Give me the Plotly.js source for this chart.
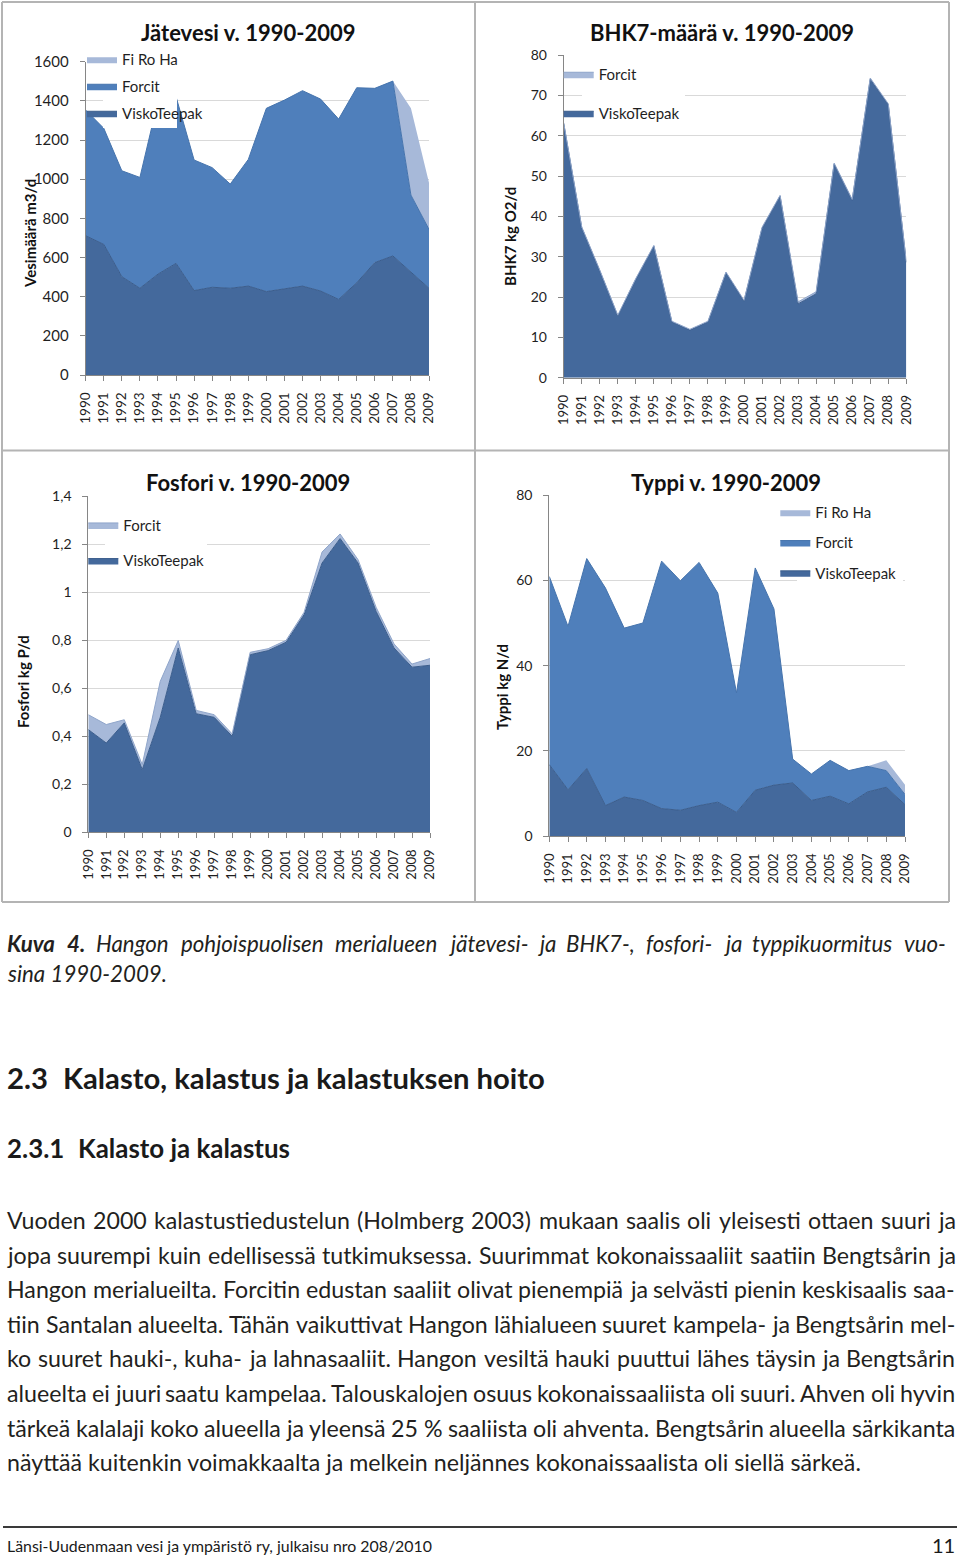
<!DOCTYPE html>
<html><head><meta charset="utf-8">
<script src="https://cdn.plot.ly/plotly-3.0.1.min.js"></script>
<style>html,body{margin:0;padding:0;background:#fff}#c{width:960px;height:1558px}</style>
</head><body><div id="c"></div>
<script>
// ---------- data ----------
const years=[1990,1991,1992,1993,1994,1995,1996,1997,1998,1999,2000,2001,2002,2003,2004,2005,2006,2007,2008,2009];
const jatevesiVisko=[711,667,502,443,515,570,431,448,443,454,426,439,454,429,386,471,574,608,528,443];
const jatevesiForcit=[642,593,541,566,885,851,667,611,532,647,936,965,998,980,921,996,890,893,391,301];
const jatevesiFiRoHa=[0,0,0,0,0,0,0,0,0,0,0,0,0,0,0,0,0,0,443,238];
const bhkVisko=[63.0,37.2,26.5,15.3,24.4,32.6,13.8,11.8,13.8,26.0,19.0,37.0,45.0,18.3,20.8,53.0,44.0,74.0,67.7,28.6];
const bhkForcit=[0.2,0.2,0.2,0.2,0.2,0.2,0.2,0.2,0.2,0.2,0.2,0.3,0.2,0.5,0.5,0.2,0.2,0.3,0.2,0.2];
const fosforiVisko=[0.428,0.372,0.456,0.261,0.479,0.768,0.494,0.479,0.400,0.740,0.757,0.792,0.907,1.122,1.224,1.122,0.921,0.768,0.688,0.696];
const fosforiForcit=[0.062,0.077,0.013,0.021,0.150,0.031,0.014,0.011,0.010,0.010,0.008,0.008,0.010,0.046,0.019,0.014,0.017,0.017,0.013,0.028];
const typpiVisko=[16.8,10.9,15.9,7.2,9.2,8.4,6.5,6.1,7.2,8.0,5.6,10.8,12.0,12.5,8.4,9.4,7.6,10.4,11.5,7.4];
const typpiForcit=[44.1,38.3,49.2,51.0,39.6,41.6,58.0,53.8,57.0,49.0,28.0,52.1,41.3,5.6,6.2,8.4,7.8,6.0,3.9,2.4];
const typpiFiRoHa=[0,0,0,0,0,0,0,0,0,0,0,0,0,0,0,0,0,0,2.4,2.3];
const fosforiTickVals=[0,0.2,0.4,0.6,0.8,1,1.2,1.4];
const fosforiTickText=['0','0,2','0,4','0,6','0,8','1','1,2','1,4'];
const chartTitles=['Jätevesi v. 1990-2009','BHK7-määrä v. 1990-2009','Fosfori v. 1990-2009','Typpi v. 1990-2009'];
const axisTitles=['Vesimäärä m3/d','BHK7 kg O2/d','Fosfori kg P/d','Typpi kg N/d'];
const captionLine1='Hangon pohjoispuolisen merialueen jätevesi- ja BHK7-, fosfori- ja typpikuormitus vuo-';
const captionLine2='sina 1990-2009.';
const heading1Num='2.3', heading1Text='Kalasto, kalastus ja kalastuksen hoito';
const heading2Num='2.3.1', heading2Text='Kalasto ja kalastus';
const bodyLines=[
'Vuoden 2000 kalastustiedustelun (Holmberg 2003) mukaan saalis oli yleisesti ottaen suuri ja',
'jopa suurempi kuin edellisessä tutkimuksessa. Suurimmat kokonaissaaliit saatiin Bengtsårin ja',
'Hangon merialueilta. Forcitin edustan saaliit olivat pienempiä ja selvästi pienin keskisaalis saa-',
'tiin Santalan alueelta. Tähän vaikuttivat Hangon lähialueen suuret kampela- ja Bengtsårin mel-',
'ko suuret hauki-, kuha- ja lahnasaaliit. Hangon vesiltä hauki puuttui lähes täysin ja Bengtsårin',
'alueelta ei juuri saatu kampelaa. Talouskalojen osuus kokonaissaaliista oli suuri. Ahven oli hyvin',
'tärkeä kalalaji koko alueella ja yleensä 25 % saaliista oli ahventa. Bengtsårin alueella särkikanta',
'näyttää kuitenkin voimakkaalta ja melkein neljännes kokonaissaalista oli siellä särkeä.'];
const footerText='Länsi-Uudenmaan vesi ja ympäristö ry, julkaisu nro 208/2010';
const pageNumber='11';

// ---------- helpers ----------
const W=960,H=1558, X=v=>v/W, Y=v=>1-v/H;
const FONT='Lato, "Open Sans", sans-serif';
const COL={dark:'#44699c',darkLine:'#3b5d8c',mid:'#4f7fbb',midLine:'#4674ad',light:'#a7b9d9',lightLine:'#8fa5ca'};
function area(name,y,ax,grp,fill,line,lw,legend,lg,rank){
  return {type:'scatter',mode:'lines',x:years,y:y,name:name,stackgroup:grp,fillcolor:fill,
    line:{color:line,width:lw},xaxis:'x'+ax,yaxis:'y'+ax,legend:legend,legendgroup:lg,legendrank:rank,hoverinfo:'skip'};
}
const traces=[
  area('ViskoTeepak',jatevesiVisko,'','g1',COL.dark,COL.darkLine,1,'legend','1a',3),
  area('Forcit',jatevesiForcit,'','g1',COL.mid,COL.midLine,1,'legend','1b',2),
  area('Fi Ro Ha',jatevesiFiRoHa,'','g1',COL.light,COL.light,0,'legend','1c',1),
  area('ViskoTeepak',bhkVisko,'2','g2',COL.dark,COL.darkLine,1,'legend2','2a',3),
  area('Forcit',bhkForcit,'2','g2',COL.light,COL.lightLine,1,'legend2','2b',2),
  area('ViskoTeepak',fosforiVisko,'3','g3',COL.dark,COL.darkLine,1,'legend3','3a',3),
  area('Forcit',fosforiForcit,'3','g3',COL.light,COL.lightLine,1,'legend3','3b',2),
  area('ViskoTeepak',typpiVisko,'4','g4',COL.dark,COL.darkLine,1,'legend4','4a',3),
  area('Forcit',typpiForcit,'4','g4',COL.mid,COL.midLine,1,'legend4','4b',2),
  area('Fi Ro Ha',typpiFiRoHa,'4','g4',COL.light,COL.light,0,'legend4','4c',1)
];
function xa(l,r,anchor,fs){return {domain:[X(l),X(r)],anchor:anchor,range:[1990,2009],tickmode:'linear',tick0:1990,dtick:1,
  tickangle:-90,ticks:'outside',ticklen:5,tickcolor:'#868686',showline:true,linecolor:'#868686',linewidth:1,
  showgrid:false,zeroline:false,tickfont:{size:fs,color:'#1f1f1f'},ticklabelstandoff:6,fixedrange:true};}
function ya(top,bot,anchor,range,fs,extra){return Object.assign({domain:[Y(bot),Y(top)],anchor:anchor,range:range,
  ticks:'outside',ticklen:5,tickcolor:'#868686',showline:true,linecolor:'#868686',linewidth:1,showgrid:true,
  gridcolor:'#d9d9d9',gridwidth:1,zeroline:false,tickfont:{size:fs,color:'#1f1f1f'},ticklabelstandoff:8,fixedrange:true},extra||{});}
function leg(x,y,gap){return {x:X(x),y:Y(y),xanchor:'left',yanchor:'top',bgcolor:'rgba(0,0,0,0)',borderwidth:0,
  font:{size:15,color:'#1f1f1f'},traceorder:'grouped',tracegroupgap:gap,itemclick:false,itemdoubleclick:false};}

const anns=[];
function txt(t,x,y,size,o){o=o||{};anns.push({text:t,xref:'paper',yref:'paper',x:X(x),y:Y(y),
  xanchor:o.xanchor||'left',yanchor:o.yanchor||'middle',showarrow:false,borderpad:0,borderwidth:0,textangle:o.angle||0,
  font:{family:FONT,size:size,color:o.color||'#231f20',weight:o.weight||'normal',style:o.style||'normal'}});}
const cv=document.createElement('canvas').getContext('2d');
function tw(t,size,weight,style){cv.font=(style||'normal')+' '+(weight||'normal')+' '+size+'px Lato';return cv.measureText(t).width;}
function justify(words,x0,x1,y,size){
  const ws=words.map(w=>tw(w.t,size,w.weight,w.style));
  const sum=ws.reduce((a,b)=>a+b,0);
  const gap=(x1-x0-sum)/(words.length-1);
  let x=x0;
  words.forEach((w,i)=>{txt(w.t,x,y,size,{weight:w.weight,style:w.style});x+=ws[i]+gap;});
}

// chart titles / axis titles
const tc=[[248,33],[722,33],[248,482],[726,482]];
chartTitles.forEach((t,i)=>txt(t,tc[i][0],tc[i][1],22,{xanchor:'center',weight:'bold',color:'#111'}));
const ac=[[30,234],[510,237],[23,682],[502,687]];
axisTitles.forEach((t,i)=>txt(t,ac[i][0],ac[i][1],15,{xanchor:'center',weight:'bold',angle:-90,color:'#111'}));

// caption
const capSize=100*(166-7)/tw(captionLine2,100,'normal','italic');
const capWords=[{t:'Kuva',weight:'bold',style:'italic'},{t:'4.',weight:'bold',style:'italic'}]
  .concat(captionLine1.split(' ').map(t=>({t:t,weight:'normal',style:'italic'})));
justify(capWords,7,946,943,capSize);
txt(captionLine2,7,973,capSize,{style:'italic'});

// headings
const h1Size=100*(545-63)/tw(heading1Text,100,'bold');
txt(heading1Num,7,1077,h1Size,{weight:'bold',color:'#1a1a1a'});
txt(heading1Text,63,1077,h1Size,{weight:'bold',color:'#1a1a1a'});
const h2Size=100*(290-78)/tw(heading2Text,100,'bold');
txt(heading2Num,7,1148,h2Size,{weight:'bold',color:'#1a1a1a'});
txt(heading2Text,78,1148,h2Size,{weight:'bold',color:'#1a1a1a'});

// body
const bodySize=100*(862-7)/tw(bodyLines[7],100);
bodyLines.forEach((line,i)=>{
  const y=1220+i*34.6;
  if(i<bodyLines.length-1){justify(line.split(' ').map(t=>({t:t})),7,955,y,bodySize);}
  else txt(line,7,y,bodySize);
});

// footer
const footSize=100*(433-7)/tw(footerText,100);
txt(footerText,7,1545,footSize,{color:'#1a1a1a'});
txt(pageNumber,955,1557,20,{xanchor:'right',yanchor:'bottom',color:'#1a1a1a'});

// frames and legend backgrounds
const shapes=[];
function ln(x0,y0,x1,y1,c,w){shapes.push({type:'line',xref:'paper',yref:'paper',x0:X(x0),y0:Y(y0),x1:X(x1),y1:Y(y1),line:{color:c,width:w},layer:'above'});}
function cover(x0,y0,x1,y1){shapes.push({type:'rect',xref:'paper',yref:'paper',x0:X(x0),y0:Y(y0),x1:X(x1),y1:Y(y1),fillcolor:'#ffffff',line:{width:0},layer:'above'});}
cover(103,44,177,128); cover(582,60,685,127); cover(105,512,207,572); cover(797,500,903,585);
const fc='#b4b4b4';
ln(2,2,949,2,fc,2); ln(2,902,949,902,fc,2); ln(2,2,2,902,fc,2); ln(949,2,949,902,fc,2);
ln(475,2,475,902,fc,2); ln(2,450.5,949,450.5,fc,2);
ln(3,1527,957,1527,'#3a3a3a',2);

const layout={width:W,height:H,margin:{l:0,r:0,t:0,b:0},paper_bgcolor:'#fff',plot_bgcolor:'rgba(0,0,0,0)',
  font:{family:FONT,color:'#1f1f1f'},showlegend:true,
  xaxis:xa(85.7,429,'y',13.5), yaxis:ya(61.7,375,'x',[0,1600],15,{dtick:200}),
  xaxis2:xa(563.7,906.3,'y2',13), yaxis2:ya(55,377.7,'x2',[0,80],14,{dtick:10}),
  xaxis3:xa(88.3,430,'y3',13), yaxis3:ya(496.3,832.3,'x3',[0,1.4],14,{tickmode:'array',tickvals:fosforiTickVals,ticktext:fosforiTickText}),
  xaxis4:xa(549.3,905,'y4',13), yaxis4:ya(495,836.3,'x4',[0,80],14,{dtick:20}),
  legend:leg(82,43,4.5), legend2:leg(558.7,58,16.5), legend3:leg(83.3,508.7,13.1), legend4:leg(775.3,496,7.8),
  annotations:anns, shapes:shapes};
Plotly.newPlot('c',traces,layout,{displayModeBar:false,staticPlot:true});
</script></body></html>
